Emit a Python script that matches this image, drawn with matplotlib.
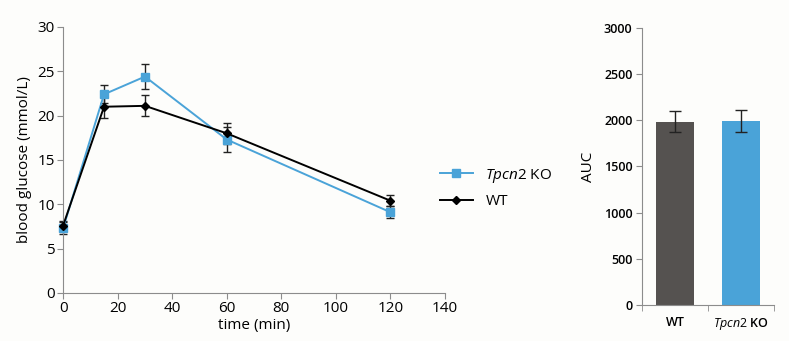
import matplotlib.pyplot as plt
from matplotlib.ticker import FixedLocator

# glucose tolerance curve
time_min = [0, 15, 30, 60, 120]
ko_glucose = [7.3, 22.4, 24.4, 17.3, 9.1]
ko_err = [0.7, 1.0, 1.4, 1.4, 0.7]
wt_glucose = [7.6, 21.0, 21.1, 18.0, 10.4]
wt_err = [0.5, 1.3, 1.2, 1.2, 0.6]

# area under curve
groups = ["WT", "$\\it{Tpcn2}$ KO"]
auc = [1985, 1992]
auc_err = [115, 115]

BLUE = "#4aa3d8"
DARK = "#555250"
SPINE = "#8c8c8c"
BG = "#fdfdfb"

plt.rcParams["font.family"] = ["Open Sans", "DejaVu Sans"]
plt.rcParams["mathtext.fontset"] = "custom"
plt.rcParams["mathtext.it"] = "Open Sans:italic"
plt.rcParams["mathtext.rm"] = "Open Sans"

fig = plt.figure(figsize=(7.89, 3.41), dpi=100, facecolor=BG)

ax = fig.add_axes([0.080, 0.141, 0.484, 0.780], facecolor=BG)
err_kw = dict(fmt="none", ecolor="#222222", elinewidth=1, capsize=3,
              capthick=1, clip_on=False)
ax.errorbar(time_min, ko_glucose, yerr=ko_err, zorder=2, **err_kw)
ax.errorbar(time_min, wt_glucose, yerr=wt_err, zorder=2, **err_kw)
ax.plot(time_min, ko_glucose, color=BLUE, marker="s", ms=6, lw=1.4,
        label="$\\it{Tpcn2}$ KO", zorder=3, clip_on=False)
ax.plot(time_min, wt_glucose, color="black", marker="D", ms=4, lw=1.4,
        label="WT", zorder=4, clip_on=False)
ax.set_xlim(0, 140)
ax.set_ylim(0, 30)
ax.set_xticks(range(0, 141, 20))
ax.set_yticks(range(0, 31, 5))
ax.set_xlabel("time (min)", fontsize=11, labelpad=1)
ax.set_ylabel("blood glucose (mmol/L)", fontsize=11, labelpad=4)
ax.tick_params(labelsize=11, color=SPINE, length=4, pad=2)
for s in ["top", "right"]:
    ax.spines[s].set_visible(False)
for s in ["left", "bottom"]:
    ax.spines[s].set_color(SPINE)
ax.legend(loc="center left", bbox_to_anchor=(0.95, 0.395), frameon=False,
          fontsize=11, handlelength=2.2, labelspacing=0.6)

# AUC panel
ax2 = fig.add_axes([0.814, 0.106, 0.167, 0.812], facecolor=BG)
ax2.bar([0, 1], auc, width=0.58, color=[DARK, BLUE], yerr=auc_err,
        error_kw=dict(ecolor="#222222", elinewidth=1, capsize=4, capthick=1))
ax2.set_xlim(-0.5, 1.5)
ax2.set_ylim(0, 3000)
ax2.set_yticks(range(0, 3001, 500))
ax2.set_xticks([0, 1])
ax2.set_xticklabels(groups, fontsize=9)
ax2.xaxis.set_minor_locator(FixedLocator([-0.5, 0.5, 1.5]))
ax2.tick_params(axis="x", which="major", length=0, pad=8)
ax2.tick_params(axis="x", which="minor", length=4, color=SPINE)
ax2.tick_params(axis="y", labelsize=9, length=4, color=SPINE, pad=3)
for lbl in ax2.get_yticklabels() + ax2.get_xticklabels():
    lbl.set_fontweight("semibold")
ax2.set_ylabel("AUC", fontsize=11, labelpad=6)
for s in ["top", "right"]:
    ax2.spines[s].set_visible(False)
for s in ["left", "bottom"]:
    ax2.spines[s].set_color(SPINE)

fig.savefig("out.png", dpi=100, facecolor=BG)
